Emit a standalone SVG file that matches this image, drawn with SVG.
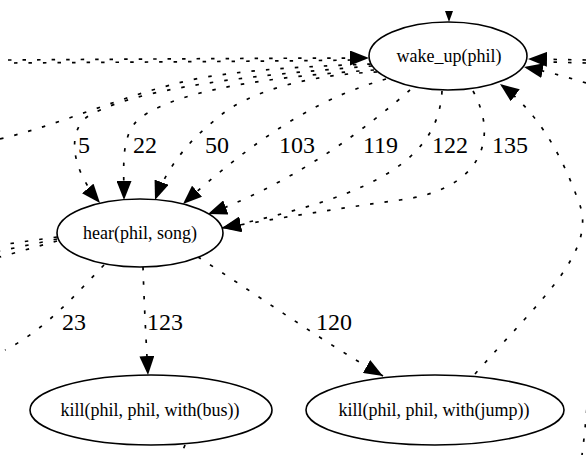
<svg xmlns="http://www.w3.org/2000/svg" width="586" height="455" viewBox="0 0 586 455">
<style>
.e{fill:none;stroke:#000;stroke-width:1.7;stroke-dasharray:3.5 11}
.a{marker-end:url(#ah)}
.n{fill:#fff;stroke:#000;stroke-width:1.6}
.nt{font-family:'Liberation Serif','DejaVu Serif',serif;font-size:18px;fill:#000;text-anchor:middle}
.lt{font-family:'Liberation Serif','DejaVu Serif',serif;font-size:24px;fill:#000}
</style>
<defs>
<marker id="ah" markerUnits="userSpaceOnUse" markerWidth="19" markerHeight="15" refX="19" refY="7.5" orient="auto" viewBox="0 0 19 15"><path d="M0,0 L19,7.5 L0,15 z" fill="#000"/></marker>
</defs>
<rect width="586" height="455" fill="#fff"/>
<g id="edges">
<polygon points="445,11 453,11 449,22" fill="#000"/>
<path class="e a" d="M8,60 C150,59 300,58 369,58"/>
<path class="e" d="M14,63 C150,62 300,61 350,60"/>
<path class="e a" d="M586,60 L528,59"/>
<path class="e" d="M586,63 L550,62"/>
<path class="e a" d="M586,83 C570,78 550,72 524,67"/>
<path class="e" d="M0,139 C70,122 120,95 200,78 C260,68 320,66 372,64"/>
<path class="e a" d="M372,66 C300,72 150,82 90,115 C68,128 68,165 100,203"/>
<path class="e a" d="M374,70 C300,75 185,85 140,118 C120,135 124,165 124,200"/>
<path class="e a" d="M377,72 C320,74 250,88 215,120 C190,140 168,165 155,200"/>
<path class="e a" d="M386,79 C330,95 270,125 183,204"/>
<path class="e a" d="M410,90 C370,125 300,180 208,214"/>
<path class="e a" d="M442,91 C438,170 350,200 222,228"/>
<path class="e a" d="M473,91 C500,140 480,190 400,200 C340,208 280,218 222,228"/>
<path class="e a" d="M475,374 C540,300 600,250 578,200 C560,150 535,110 500,84"/>
<path class="e" d="M57,237 L0,245"/>
<path class="e" d="M57,239 L0,251"/>
<path class="e" d="M57,241 L0,257"/>
<path class="e" d="M104,265 C75,295 45,330 5,350"/>
<path class="e a" d="M143,267 C144,300 146,340 148,375"/>
<path class="e a" d="M198,257 C250,290 320,340 383,376"/>
<path class="e" d="M185,445 L181,455"/>
<path class="e" d="M588,395 C586,420 584,440 582,455"/>
</g>
<g id="edge-labels">
<text class="lt" x="78" y="153">5</text>
<text class="lt" x="133" y="153">22</text>
<text class="lt" x="205" y="153">50</text>
<text class="lt" x="279" y="153">103</text>
<text class="lt" x="363" y="153">119</text>
<text class="lt" x="432" y="153">122</text>
<text class="lt" x="492" y="153">135</text>
<text class="lt" x="62" y="330">23</text>
<text class="lt" x="147" y="330">123</text>
<text class="lt" x="316" y="330">120</text>
</g>
<g id="node-wake_up">
<ellipse class="n" cx="448" cy="56" rx="79" ry="34"/>
<text class="nt" x="449" y="62">wake_up(phil)</text>
</g>
<g id="node-hear">
<ellipse class="n" cx="140" cy="233" rx="83" ry="34"/>
<text class="nt" x="140" y="239">hear(phil, song)</text>
</g>
<g id="node-kill-bus">
<ellipse class="n" cx="151" cy="410" rx="121" ry="35"/>
<text class="nt" x="150" y="416">kill(phil, phil, with(bus))</text>
</g>
<g id="node-kill-jump">
<ellipse class="n" cx="435" cy="410" rx="129" ry="35"/>
<text class="nt" x="434" y="416">kill(phil, phil, with(jump))</text>
</g>
</svg>
